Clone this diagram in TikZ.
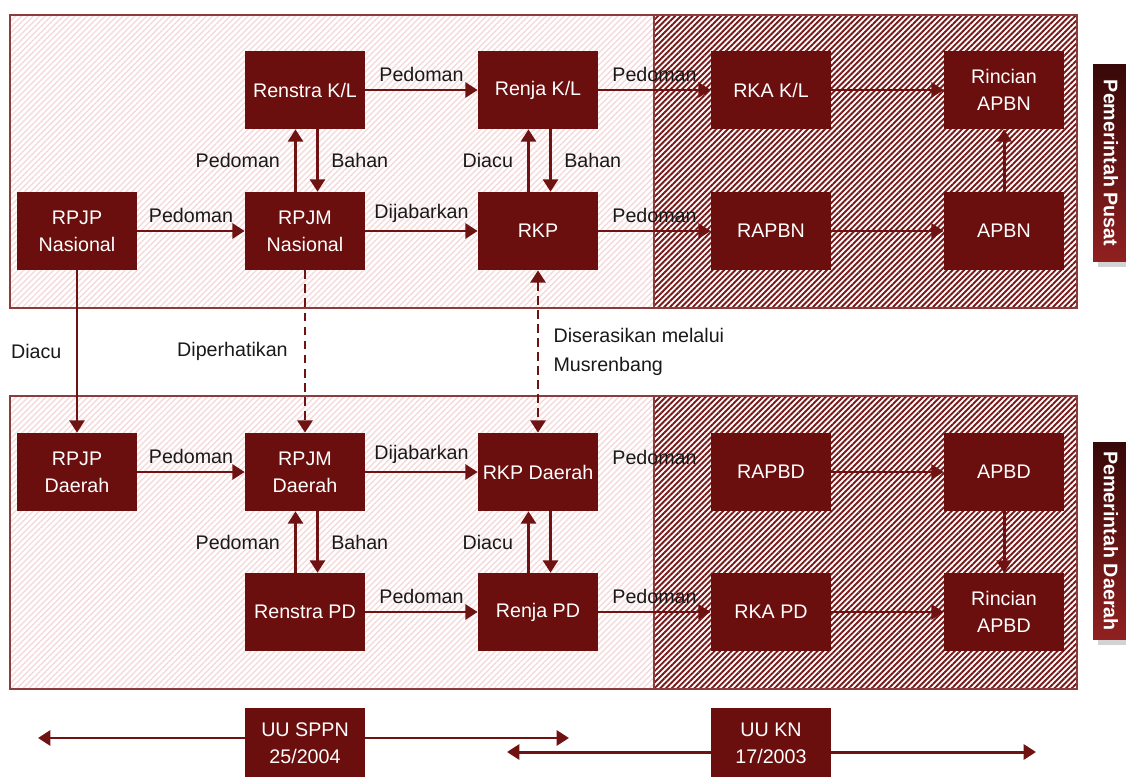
\documentclass[tikz,border=0pt]{standalone}
\usepackage{fontspec}
\setmainfont{Liberation Sans}
\usetikzlibrary{arrows.meta,calc,patterns.meta,shadows}
\definecolor{boxred}{RGB}{107,14,14}
\definecolor{arrred}{RGB}{110,18,18}
\definecolor{panelred}{RGB}{140,60,60}
\definecolor{hatchlight}{RGB}{244,218,218}
\definecolor{hatchdark}{RGB}{120,25,25}
\definecolor{sidedark}{RGB}{55,8,8}
\definecolor{sidelight}{RGB}{145,32,32}

\begin{document}
\begin{tikzpicture}[x=0.02cm, y=-0.02cm, >={Triangle[length=7pt,width=8.5pt]},
  every node/.style={font=\fontsize{11.2}{15.5}\selectfont},
  box/.style={fill=boxred, text=white, align=center, minimum width=2.4cm, minimum height=1.56cm, inner sep=2pt},
  lbl/.style={text=black!90, inner sep=1pt},
  arr/.style={->, draw=arrred, line width=1.7pt},
  side/.style={rotate=-90, text=white, font=\bfseries\fontsize{11.2}{14}\selectfont, minimum width=3.96cm, minimum height=0.72cm, top color=sidedark, bottom color=sidelight, drop shadow={opacity=0.35}}]
\useasboundingbox (0,0) rectangle (1126,777);
\clip (0,0) rectangle (1126,777);
\foreach \t/\b in {15/308, 396/689}{
\draw[panelred, line width=0.8pt, pattern={Lines[angle=45,distance=2.4pt,line width=0.8pt]}, pattern color=hatchlight] (10,\t) rectangle (654,\b);
\draw[panelred, line width=0.8pt, pattern={Lines[angle=45,distance=2.3pt,line width=1.1pt]}, pattern color=hatchdark] (654,\t) rectangle (1077,\b);
}
\foreach \n/\x/\y/\t in {renstrakl/305/90/{Renstra K/L}, renjakl/538/90/{Renja K/L}, rkakl/771/90/{RKA K/L}, rincianapbn/1004/90/{Rincian\\APBN},
  rpjpn/77/231/{RPJP\\Nasional}, rpjmn/305/231/{RPJM\\Nasional}, rkp/538/231/{RKP}, rapbn/771/231/{RAPBN}, apbn/1004/231/{APBN},
  rpjpd/77/472/{RPJP\\Daerah}, rpjmd/305/472/{RPJM\\Daerah}, rkpd/538/472/{RKP Daerah}, rapbd/771/472/{RAPBD}, apbd/1004/472/{APBD},
  renstrapd/305/612/{Renstra PD}, renjapd/538/612/{Renja PD}, rkapd/771/612/{RKA PD}, rincianapbd/1004/612/{Rincian\\APBD}}{
\node[box] (\n) at (\x,\y) {\t};
}
\draw[arr] (renstrakl) -- node[lbl, above=3pt] {Pedoman} (renjakl);
\draw[arr] (renjakl) -- node[lbl, above=3pt] {Pedoman} (rkakl);
\draw[arr] (rkakl) -- (rincianapbn);
\draw[arr] (rpjpn) -- node[lbl, above=3pt] {Pedoman} (rpjmn);
\draw[arr] (rpjmn) -- node[lbl, above=3pt] {Dijabarkan} (rkp);
\draw[arr] (rkp) -- node[lbl, above=3pt] {Pedoman} (rapbn);
\draw[arr] (rapbn) -- (apbn);
\draw[arr] (apbn) -- (rincianapbn);
\draw[arr] ([xshift=-0.19cm]rpjmn.north) -- node[lbl, left=7pt] {Pedoman} ([xshift=-0.19cm]renstrakl.south);
\draw[arr] ([xshift=0.25cm]renstrakl.south) -- node[lbl, right=6pt] {Bahan} ([xshift=0.25cm]rpjmn.north);
\draw[arr] ([xshift=-0.19cm]rkp.north) -- node[lbl, left=7pt] {Diacu} ([xshift=-0.19cm]renjakl.south);
\draw[arr] ([xshift=0.25cm]renjakl.south) -- node[lbl, right=6pt] {Bahan} ([xshift=0.25cm]rkp.north);
\draw[arr] (rpjpn) -- node[lbl, left=7pt] {Diacu} (rpjpd);
\draw[arr, dash pattern=on 5pt off 3pt] (rpjmn) -- node[lbl, left=8pt] {Diperhatikan} (rpjmd);
\draw[arr, <->, dash pattern=on 5pt off 3pt] (rkp) -- node[lbl, right=7pt, align=left, font=\fontsize{11.2}{16.5}\selectfont] {Diserasikan melalui\\Musrenbang} (rkpd);
\draw[arr] (rpjpd) -- node[lbl, above=3pt] {Pedoman} (rpjmd);
\draw[arr] (rpjmd) -- node[lbl, above=3pt] {Dijabarkan} (rkpd);
\node[lbl, above=3pt] (pedrkpd) at ($(rkpd.east)!.5!(rapbd.west)$) {Pedoman};
\draw[arr] (rapbd) -- (apbd);
\draw[arr] (apbd) -- (rincianapbd);
\draw[arr] ([xshift=-0.19cm]renstrapd.north) -- node[lbl, left=7pt] {Pedoman} ([xshift=-0.19cm]rpjmd.south);
\draw[arr] ([xshift=0.25cm]rpjmd.south) -- node[lbl, right=6pt] {Bahan} ([xshift=0.25cm]renstrapd.north);
\draw[arr] ([xshift=-0.19cm]renjapd.north) -- node[lbl, left=7pt] {Diacu} ([xshift=-0.19cm]rkpd.south);
\draw[arr] ([xshift=0.25cm]rkpd.south) -- ([xshift=0.25cm]renjapd.north);
\draw[arr] (renstrapd) -- node[lbl, above=3pt] {Pedoman} (renjapd);
\draw[arr] (renjapd) -- node[lbl, above=3pt] {Pedoman} (rkapd);
\draw[arr] (rkapd) -- (rincianapbd);
\coordinate (sppnl) at (38,738);
\coordinate (sppnr) at (569,738);
\coordinate (knl) at (507,752);
\coordinate (knr) at (1036,752);
\draw[arr, <->] (sppnl) -- (sppnr);
\draw[arr, <->] (knl) -- (knr);
\node[box, anchor=north, minimum height=1.4cm] (uusppn) at (305,708) {UU SPPN\\25/2004};
\node[box, anchor=north, minimum height=1.4cm] (uukn) at (771,708) {UU KN\\17/2003};
\node[side] (pusat) at (1111,163) {Pemerintah Pusat};
\node[side] (daerah) at (1111,541) {Pemerintah Daerah};
\end{tikzpicture}
\end{document}
